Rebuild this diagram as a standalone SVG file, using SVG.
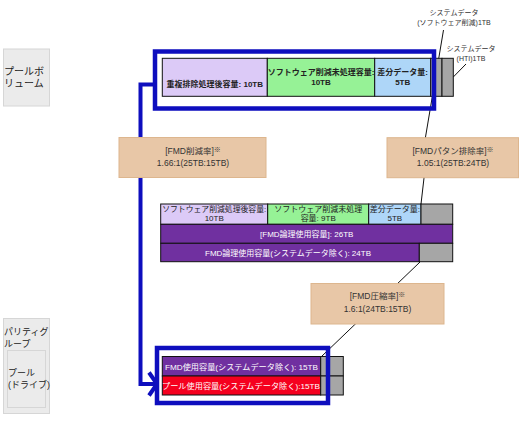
<svg xmlns="http://www.w3.org/2000/svg" width="520" height="424" viewBox="0 0 520 424">
<style>
text{font-family:"Liberation Sans","Noto Sans CJK JP",sans-serif;fill:#222}
.lbl{font-size:10px}
.lbl9{font-size:9px}
.sys{font-size:7px;text-anchor:middle;fill:#333}
.side{fill:#EBEBEB;stroke:#D6D6D6;stroke-width:1}
.cell{stroke:#111;stroke-width:1}
.lav{fill:#DCCAF7}
.grn{fill:#96F296}
.blu{fill:#AED6F8}
.gry{fill:#A6A6A6}
.pur{fill:#7030A0}
.red{fill:#F5001E}
.t8{font-size:8px;text-anchor:middle}
.tb{font-size:8px;text-anchor:middle;font-weight:bold}
.wt{font-size:8px;text-anchor:middle;fill:#fff}
.ratio rect{fill:#E8C7A7;stroke:#DDB68E;stroke-width:1}
.rt{font-size:8.5px;text-anchor:middle;fill:#333}
.hl{fill:none;stroke:#0E0EBE;stroke-width:4.5}
.lead{fill:none;stroke:#111;stroke-width:1}
.conn{fill:none;stroke:#0E0EBE;stroke-width:4}
</style>
<defs>
<marker id="chev" markerUnits="userSpaceOnUse" viewBox="0 0 12 26" markerWidth="12" markerHeight="26" refX="10" refY="13" orient="auto">
<path d="M2,1.5 L10,13 L2,24.5" fill="none" stroke="#0E0EBE" stroke-width="4"/>
</marker>
</defs>
<rect width="520" height="424" fill="#fff"/>

<g id="connectors">
<path class="lead" d="M443.5,30 L425,140 L424,178 L421,204"/>
<path class="lead" d="M466,64 L453.3,77"/>
<path class="lead" d="M420,262 L322,356"/>
<path class="conn" d="M153,84.5 H140.5 V384 H157" marker-end="url(#chev)"/>
</g>

<g id="pool-volume-label">
<rect class="side" x="3.5" y="49" width="46" height="57"/>
<text class="lbl" x="4" y="74.5">プールボ</text>
<text class="lbl" x="4" y="86.5">リューム</text>
</g>

<g id="parity-group-label">
<rect class="side" x="3.5" y="318.5" width="46" height="95"/>
<text class="lbl9" x="4" y="335">パリティグ</text>
<text class="lbl9" x="4" y="346.5">ループ</text>
<rect class="side" x="7.5" y="350.5" width="38" height="57"/>
<text class="lbl9" x="8" y="375.5">プール</text>
<text class="lbl9" x="8" y="388">(ドライブ)</text>
</g>

<g id="system-data-sw">
<text class="sys" x="454" y="15">システムデータ</text>
<text class="sys" x="454" y="24.5">(ソフトウェア削減)1TB</text>
</g>
<g id="system-data-hti">
<text class="sys" x="471" y="51">システムデータ</text>
<text class="sys" x="471" y="61">(HTI)1TB</text>
</g>

<g id="pool-volume-bar">
<rect class="cell lav" x="162.3" y="58.3" width="105" height="38"/>
<rect class="cell grn" x="267.3" y="58.3" width="107.4" height="38"/>
<rect class="cell blu" x="374.7" y="58.3" width="56" height="38"/>
<rect class="cell gry" x="430.7" y="58.3" width="11.3" height="38"/>
<rect class="cell gry" x="442" y="58.3" width="11.3" height="38"/>
<text class="tb" x="214.8" y="86.5">重複排除処理後容量: 10TB</text>
<text class="tb" x="321" y="74.5">ソフトウェア削減未処理容量:</text>
<text class="tb" x="321" y="84.5">10TB</text>
<text class="tb" x="402.7" y="74.5">差分データ量:</text>
<text class="tb" x="402.7" y="84.5">5TB</text>
</g>
<g id="pool-volume-highlight">
<rect class="hl" x="155" y="51.5" width="279" height="57"/>
</g>

<g id="fmd-logical-bar">
<rect class="cell lav" x="160.7" y="204" width="107" height="20.3"/>
<rect class="cell grn" x="267.7" y="204" width="101" height="20.3"/>
<rect class="cell blu" x="368.7" y="204" width="52.3" height="20.3"/>
<rect class="cell gry" x="421" y="204" width="31.7" height="20.3"/>
<rect class="cell pur" x="160.7" y="224.3" width="292" height="19"/>
<rect class="cell pur" x="160.7" y="243.3" width="258.6" height="18.4"/>
<rect class="cell gry" x="419.3" y="243.3" width="33.4" height="18.4"/>
<text class="t8" x="214.2" y="211.5" textLength="104" lengthAdjust="spacingAndGlyphs">ソフトウェア削減処理後容量:</text>
<text class="t8" x="214.2" y="221">10TB</text>
<text class="t8" x="318.2" y="211.5">ソフトウェア削減未処理</text>
<text class="t8" x="318.2" y="221">容量: 9TB</text>
<text class="t8" x="394.8" y="211.5">差分データ量:</text>
<text class="t8" x="394.8" y="221">5TB</text>
<text class="wt" x="306.7" y="236.5">[FMD論理使用容量]: 26TB</text>
<text class="wt" x="288" y="255.5">FMD論理使用容量(システムデータ除く): 24TB</text>
</g>

<g id="pool-used-bar">
<rect class="cell pur" x="162.3" y="356.5" width="158.4" height="19.5"/>
<rect class="cell gry" x="320.7" y="356.5" width="22.6" height="19.5"/>
<rect class="cell red" x="162.3" y="376" width="158.4" height="19"/>
<rect class="cell gry" x="320.7" y="376" width="22.6" height="19"/>
<text class="wt" x="241.5" y="370" textLength="153" lengthAdjust="spacingAndGlyphs">FMD使用容量(システムデータ除く): 15TB</text>
<text class="wt" x="241" y="389" textLength="158" lengthAdjust="spacingAndGlyphs">プール使用容量(システムデータ除く):15TB</text>
</g>
<g id="pool-used-highlight">
<rect class="hl" x="157" y="348" width="171" height="55"/>
</g>

<g id="fmd-reduction-ratio" class="ratio">
<rect x="119" y="137.5" width="147" height="40"/>
<text class="rt" x="193" y="153.5">[FMD削減率]<tspan font-size="7" dy="-2">※</tspan></text>
<text class="rt" x="193" y="166">1.66:1(25TB:15TB)</text>
</g>

<g id="fmd-pattern-ratio" class="ratio">
<rect x="387" y="137.7" width="131.5" height="40"/>
<text class="rt" x="453" y="153.5">[FMDパタン排除率]<tspan font-size="7" dy="-2">※</tspan></text>
<text class="rt" x="453" y="166">1.05:1(25TB:24TB)</text>
</g>

<g id="fmd-compression-ratio" class="ratio">
<rect x="311" y="283.5" width="133" height="40.5"/>
<text class="rt" x="377.5" y="299">[FMD圧縮率]<tspan font-size="7" dy="-2">※</tspan></text>
<text class="rt" x="377.5" y="311.5">1.6:1(24TB:15TB)</text>
</g>
</svg>
